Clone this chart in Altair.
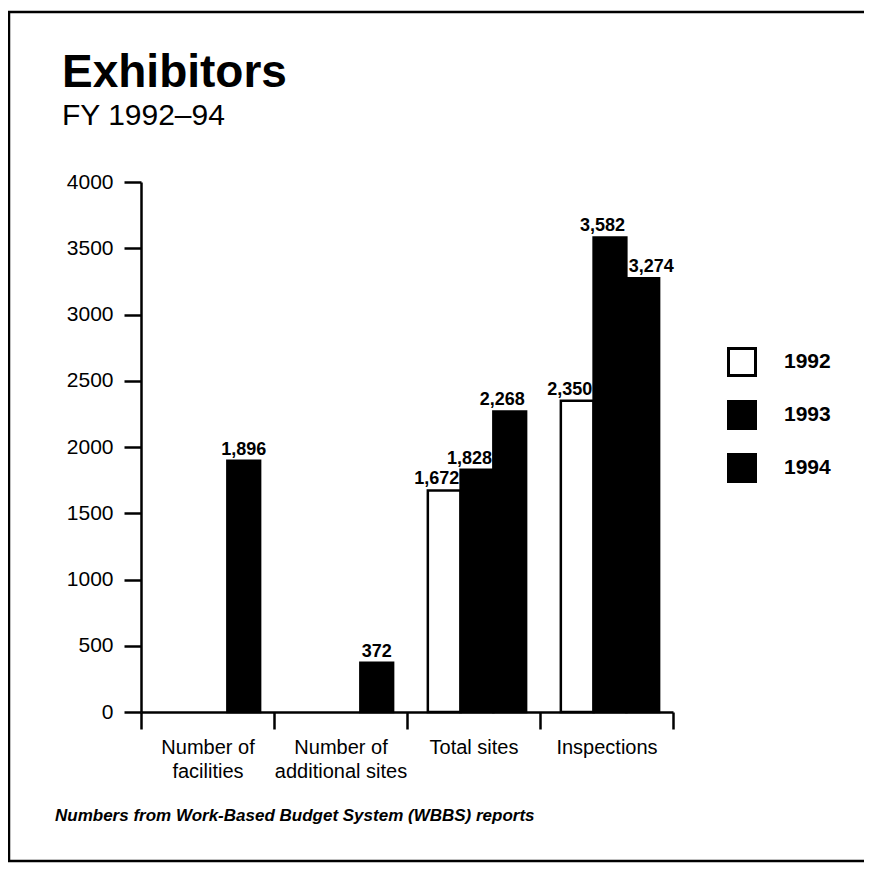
import altair as alt
import pandas as pd

# ---- data ----
categories = ["Number of facilities", "Number of additional sites", "Total sites", "Inspections"]
years = ["1992", "1993", "1994"]
values_1992 = [None, None, 1672, 2350]
values_1993 = [None, None, 1828, 3582]
values_1994 = [1896, 372, 2268, 3274]
y_ticks = [0, 500, 1000, 1500, 2000, 2500, 3000, 3500, 4000]

title_text = "Exhibitors"
subtitle_text = "FY 1992\u201394"
footer_text = "Numbers from Work-Based Budget System (WBBS) reports"

rows = []
for yr, vals in zip(years, [values_1992, values_1993, values_1994]):
    for cat, v in zip(categories, vals):
        if v is not None:
            rows.append({"category": cat, "year": yr, "value": v})
df = pd.DataFrame(rows)

FONT = "Liberation Sans"
W, H = 532, 530

x_enc = alt.X(
    "category:N",
    sort=categories,
    scale=alt.Scale(paddingInner=0, paddingOuter=0),
    axis=alt.Axis(
        title=None,
        labelAngle=0,
        tickBand="extent",
        tickSize=17,
        tickWidth=2.5,
        tickColor="black",
        domainColor="black",
        domainWidth=2.5,
        labelFontSize=20,
        labelFont=FONT,
        labelColor="black",
        labelPadding=8,
        labelLineHeight=24,
        labelExpr="indexof(datum.label, 'Number of ') == 0 ? ['Number of', slice(datum.label, 10)] : datum.label",
    ),
)
xoff = alt.XOffset(
    "year:N",
    scale=alt.Scale(domain=years, paddingInner=0, paddingOuter=0.53, align=0.6),
)
y_enc = alt.Y(
    "value:Q",
    scale=alt.Scale(domain=[0, 4000], nice=False),
    axis=alt.Axis(
        title=None,
        values=y_ticks,
        format="d",
        grid=False,
        tickSize=17,
        tickWidth=2.5,
        tickColor="black",
        domainColor="black",
        domainWidth=2.5,
        labelFontSize=21,
        labelFont=FONT,
        labelColor="black",
        labelPadding=11,
    ),
)

bars = alt.Chart(df).mark_bar(stroke="black", strokeWidth=2.5, opacity=1).encode(
    x=x_enc,
    xOffset=xoff,
    y=y_enc,
    color=alt.Color(
        "year:N",
        scale=alt.Scale(domain=years, range=["white", "black", "black"]),
        legend=alt.Legend(
            title=None,
            orient="none",
            legendX=586,
            legendY=165,
            symbolType="square",
            symbolSize=729,
            symbolStrokeColor="black",
            symbolStrokeWidth=3,
            symbolOpacity=1,
            labelFontSize=21,
            labelFont=FONT,
            labelFontWeight="bold",
            labelColor="black",
            labelOffset=27,
            rowPadding=13,
            padding=0,
        ),
    ),
)

# value labels: placed so that they clear the taller neighbouring bar
base_lab = alt.Chart(df).transform_window(
    prev="lag(value)", groupby=["category"], sort=[alt.SortField("year")]
).transform_joinaggregate(
    n="count()", groupby=["category"]
).transform_calculate(
    pos="datum.n == 1 ? 'center' : (isValid(datum.prev) && datum.prev > datum.value ? 'left' : 'right')"
)

def lab_layer(pos, align, dx):
    return base_lab.transform_filter(alt.datum.pos == pos).mark_text(
        baseline="alphabetic", align=align, dx=dx, dy=-6, fontSize=18,
        fontWeight="bold", font=FONT, color="black"
    ).encode(
        x=alt.X("category:N", sort=categories),
        xOffset=alt.XOffset("year:N"),
        y=alt.Y("value:Q"),
        text=alt.Text("value:Q", format=","),
    )

lab_c = lab_layer("center", "center", 0)
lab_r = lab_layer("right", "right", 15)
lab_l = lab_layer("left", "left", -14)

title = alt.Chart(pd.DataFrame({"t": [title_text]})).mark_text(
    align="left", baseline="alphabetic", fontSize=46, fontWeight="bold", font=FONT, color="black"
).encode(x=alt.value(-79), y=alt.value(-95), text="t:N")

sub = alt.Chart(pd.DataFrame({"t": [subtitle_text]})).mark_text(
    align="left", baseline="alphabetic", fontSize=30, font=FONT, color="black"
).encode(x=alt.value(-79), y=alt.value(-57), text="t:N")

foot = alt.Chart(pd.DataFrame({"t": [footer_text]})).mark_text(
    align="left", baseline="alphabetic", fontSize=17, fontWeight="bold", fontStyle="italic",
    font=FONT, color="black"
).encode(x=alt.value(-86), y=alt.value(639), text="t:N")

frame = alt.Chart(pd.DataFrame({"t": ["frame"]})).mark_rect(
    filled=False, stroke="black", strokeWidth=2.5
).encode(x=alt.value(-132), x2=alt.value(760), y=alt.value(-170), y2=alt.value(679))

chart = alt.layer(frame, bars, lab_c, lab_r, lab_l, title, sub, foot).properties(
    width=W,
    height=H,
    autosize=alt.AutoSizeParams(type="none"),
    padding={"left": 133, "top": 174, "right": 191, "bottom": 151},
    background="white",
).configure_view(stroke=None)

chart.save("out.html", embed_options={"renderer": "svg", "actions": False})
